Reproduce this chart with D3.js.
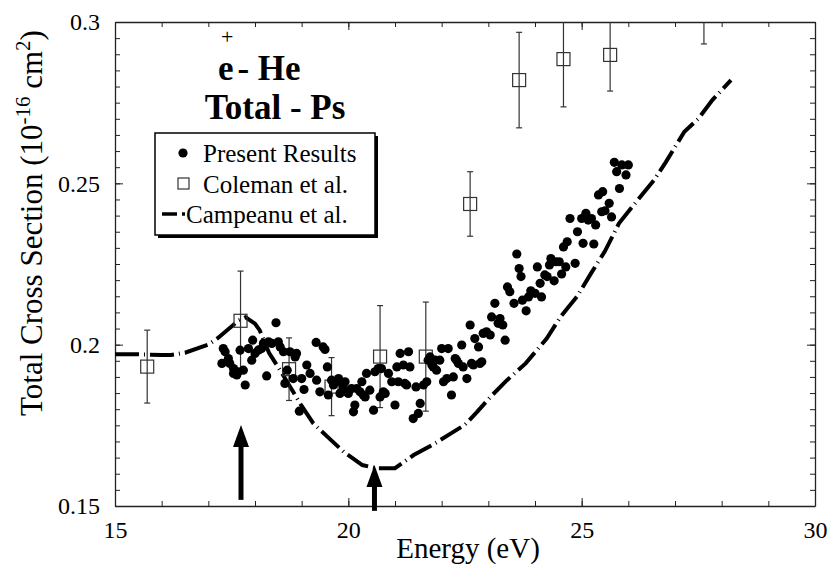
<!DOCTYPE html>
<html lang="en">
<head>
    <meta charset="UTF-8">
    <title>e+ - He Total - Ps</title>
    <script src="https://d3js.org/d3.v7.min.js"></script>
    <style>
        body { margin: 0; background: #fff; }
    </style>
</head>
<body>

<script>
    // Present Results (energy in eV, cross section in 1e-16 cm^2)
    const presentE = [
        17.32,17.36,17.29,17.43,17.46,17.54,17.54,17.61,17.64,17.68,
        17.75,17.79,17.86,17.93,17.95,18.00,18.07,18.14,18.18,18.25,
        18.29,18.36,18.45,18.50,18.54,18.61,18.64,18.69,18.75,18.82,
        18.86,18.89,18.95,19.00,19.05,19.11,19.18,19.31,19.32,19.39,
        19.46,19.50,19.55,19.57,19.64,19.68,19.75,19.79,19.82,19.89,
        19.93,19.96,20.00,20.07,20.11,20.14,20.18,20.25,20.29,20.32,
        20.36,20.39,20.46,20.54,20.57,20.64,20.68,20.71,20.75,20.79,
        20.86,20.93,21.00,21.04,21.07,21.11,21.18,21.21,21.25,21.29,
        21.32,21.39,21.45,21.50,21.54,21.61,21.68,21.71,21.75,21.79,
        21.82,21.86,21.89,21.96,22.00,22.04,22.11,22.14,22.21,22.25,
        22.29,22.32,22.36,22.43,22.46,22.54,22.61,22.64,22.68,22.71,
        22.79,22.82,22.86,22.89,22.96,23.04,23.07,23.14,23.21,
        23.25,23.31,23.36,23.41,23.46,23.55,23.61,23.66,23.70,23.73,
        23.81,23.86,23.91,24.00,24.05,24.11,24.14,24.21,24.26,24.31,
        24.34,24.41,24.45,24.52,24.57,24.61,24.66,24.69,24.75,24.86,
        24.91,25.00,25.03,25.09,25.14,25.21,25.26,25.30,25.36,25.45,
        25.43,25.50,25.59,25.64,25.70,25.75,25.81,25.86,25.95,26.00
    ];
    const presentSigma = [
        0.1988,0.1978,0.1942,0.1957,0.1942,0.1926,0.1911,0.1906,0.1916,0.1983,
        0.1921,0.1875,0.1988,0.1952,0.2014,0.1973,0.1983,0.1988,0.2004,0.1903,
        0.2009,0.2004,0.2068,0.2009,0.1993,0.1978,0.1880,0.1921,0.1978,0.1895,
        0.1962,0.1973,0.1794,0.1895,0.1861,0.1937,0.1911,0.2007,0.1890,0.1854,
        0.1993,0.1985,0.1931,0.1844,0.1890,0.1875,0.1885,0.1895,0.1849,0.1869,
        0.1885,0.1854,0.1849,0.1864,0.1792,0.1813,0.1864,0.1854,0.1885,0.1844,
        0.1838,0.1911,0.1859,0.1797,0.1916,0.1926,0.1838,0.1926,0.1854,0.1849,
        0.1911,0.1885,0.1813,0.1931,0.1885,0.1973,0.1937,0.1880,0.1875,0.1978,
        0.1931,0.1771,0.1869,0.1787,0.1818,0.1875,0.1885,0.1952,0.1962,0.1937,
        0.1931,0.1952,0.1921,0.1952,0.1988,0.1885,0.1895,0.1988,0.1844,0.1900,
        0.1957,0.1952,0.1942,0.1999,0.1931,0.1895,0.2061,0.1942,0.1937,0.2019,
        0.1993,0.1942,0.1947,0.2035,0.2040,0.2030,0.2086,0.2128,0.2066,
        0.2081,0.2061,0.2014,0.2179,0.2164,0.2128,0.2281,0.2236,0.2211,0.2138,
        0.2105,0.2148,0.2167,0.2159,0.2241,0.2190,0.2148,0.2216,0.2211,0.2247,
        0.2267,0.2198,0.2257,0.2257,0.2219,0.2303,0.2241,0.2319,0.2391,0.2252,
        0.2350,0.2391,0.2314,0.2407,0.2386,0.2391,0.2312,0.2371,0.2464,0.2474,
        0.2412,0.2415,0.2438,0.2396,0.2565,0.2536,0.2484,0.2557,0.2526,0.2557
    ];

    // Coleman et al.
    const colemanE     = [15.69, 17.69, 18.73, 19.64, 20.68, 21.66, 22.61, 23.66, 24.61, 25.61, 27.62];
    const colemanSigma = [0.1932, 0.2074, 0.1924, 0.1870, 0.1963, 0.1963, 0.2436, 0.2820, 0.2885, 0.2898, 0.3080];
    const colemanErr   = [0.0113, 0.0154, 0.0097, 0.0090, 0.0158, 0.0169, 0.0100, 0.0148, 0.0148, 0.0112, 0.0148];

    // Campeanu et al.
    const campE = [15.0,15.5,16.0,16.2,16.5,17.0,17.2,17.65,17.8,18.0,18.1,18.3,18.6,19.0,19.25,
        19.55,19.9,20.3,20.6,21.0,21.4,21.8,22.2,22.5,22.75,23.05,23.4,23.8,24.25,24.55,
        24.9,25.2,25.5,25.8,26.2,26.55,26.8,27.2,27.5,27.8,28.2];
    const campSigma = [0.1970,0.1970,0.1968,0.1968,0.1975,0.2000,0.2020,0.2075,0.2085,0.2065,0.2045,0.1975,0.1906,0.1810,0.1756,
        0.1715,0.1668,0.1627,0.1617,0.1617,0.1658,0.1689,0.1725,0.1752,0.1790,0.1839,0.1890,0.1942,0.2019,0.2087,
        0.2149,0.2221,0.2290,0.2376,0.2448,0.2510,0.2565,0.2660,0.2700,0.2758,0.2820];

    // threshold arrows
    const arrowE      = [17.7, 20.56];
    const arrowTip    = [0.1751, 0.1627];
    const arrowBottom = [0.1519, 0.1485];

    // ticks
    const xTickLabels = [15, 20, 25, 30];
    const yTickLabels = [0.15, 0.2, 0.25, 0.3];

    const FONT = "'Liberation Serif', 'Times New Roman', serif";
    const width = 831, height = 572;
    const margin = { top: 22, right: 16, bottom: 66, left: 115 };
    const iw = width - margin.left - margin.right;
    const ih = height - margin.top - margin.bottom;

    const svg = d3.select("body").append("svg")
        .attr("width", width)
        .attr("height", height);

    const g = svg.append("g")
        .attr("transform", "translate(" + margin.left + "," + margin.top + ")");

    const x = d3.scaleLinear().domain([15, 30]).range([0, iw]);
    const y = d3.scaleLinear().domain([0.15, 0.3]).range([ih, 0]);

    svg.append("defs").append("clipPath").attr("id", "clip")
        .append("rect").attr("width", iw).attr("height", ih);

    // axes: ticks pointing inwards on all four sides
    const xMinor = d3.range(15, 31, 1);
    const yMinor = d3.range(0, 31).map(i => 0.15 + i * 0.005);

    function drawAxis(axisFn, scale, tr, minor, major, labels) {
        const gm = g.append("g").attr("transform", tr)
            .call(axisFn(scale).tickValues(minor).tickSizeInner(-5).tickSizeOuter(0).tickFormat(""));
        gm.select(".domain").attr("stroke", "#222").attr("stroke-width", 1.3);
        gm.selectAll(".tick line").attr("stroke", "#222");
        const ga = g.append("g").attr("transform", tr)
            .call(axisFn(scale).tickValues(major).tickSizeInner(-8).tickSizeOuter(0).tickPadding(15)
                .tickFormat(labels ? (d => String(d)) : ""));
        ga.attr("font-family", FONT).attr("font-size", 24);
        ga.select(".domain").remove();
        ga.selectAll(".tick line").attr("stroke", "#222");
        ga.selectAll("text").attr("fill", "#000");
    }
    drawAxis(d3.axisBottom, x, "translate(0," + ih + ")", xMinor, xTickLabels, true);
    drawAxis(d3.axisTop, x, "translate(0,0)", xMinor, xTickLabels, false);
    drawAxis(d3.axisLeft, y, "translate(0,0)", yMinor, yTickLabels, true);
    drawAxis(d3.axisRight, y, "translate(" + iw + ",0)", yMinor, yTickLabels, false);

    const plot = g.append("g").attr("clip-path", "url(#clip)");

    // Campeanu curve
    const line = d3.line().x(d => x(d[0])).y(d => y(d[1]));
    plot.append("path")
        .datum(d3.zip(campE, campSigma))
        .attr("d", line)
        .attr("fill", "none")
        .attr("stroke", "#000")
        .attr("stroke-width", 4)
        .attr("stroke-dasharray", "24,5,1,5");

    // Coleman error bars and squares
    const coleman = d3.zip(colemanE, colemanSigma, colemanErr);
    const eb = plot.selectAll(".eb").data(coleman).enter().append("g")
        .attr("stroke", "#333").attr("stroke-width", 1.2);
    eb.append("line")
        .attr("x1", d => x(d[0])).attr("x2", d => x(d[0]))
        .attr("y1", d => y(d[1] - d[2])).attr("y2", d => y(d[1] + d[2]));
    eb.append("line")
        .attr("x1", d => x(d[0]) - 3).attr("x2", d => x(d[0]) + 3)
        .attr("y1", d => y(d[1] - d[2])).attr("y2", d => y(d[1] - d[2]));
    eb.append("line")
        .attr("x1", d => x(d[0]) - 3).attr("x2", d => x(d[0]) + 3)
        .attr("y1", d => y(d[1] + d[2])).attr("y2", d => y(d[1] + d[2]));
    eb.append("rect")
        .attr("x", d => x(d[0]) - 6.5).attr("y", d => y(d[1]) - 6.5)
        .attr("width", 13).attr("height", 13)
        .attr("fill", "none");

    // Present results
    plot.selectAll(".dot").data(d3.zip(presentE, presentSigma)).enter().append("circle")
        .attr("cx", d => x(d[0])).attr("cy", d => y(d[1]))
        .attr("r", 4.6).attr("fill", "#000");

    // arrows
    arrowE.forEach((e, i) => {
        const ax = x(e), tip = y(arrowTip[i]);
        g.append("line")
            .attr("x1", ax).attr("x2", ax)
            .attr("y1", tip + 18).attr("y2", y(arrowBottom[i]))
            .attr("stroke", "#000").attr("stroke-width", 5);
        g.append("path")
            .attr("d", "M" + ax + "," + tip + "L" + (ax + 8) + "," + (tip + 22) + "L" + (ax - 8) + "," + (tip + 22) + "Z")
            .attr("fill", "#000");
    });

    // title: the "+" sits above the "e"
    const t1 = svg.append("text").attr("x", 218).attr("y", 80)
        .style("font-size", "35px").style("font-weight", "bold");
    t1.append("tspan").text("e");
    t1.append("tspan").attr("dx", -12.5).attr("dy", -36.5)
        .style("font-size", "22px").style("font-weight", "normal").text("+");
    t1.append("tspan").attr("dx", 4).attr("dy", 36.5).text("- He");
    svg.append("text")
        .attr("x", 275).attr("y", 119)
        .attr("text-anchor", "middle")
        .style("font-size", "35px").style("font-weight", "bold")
        .text("Total - Ps");

    // legend
    const lg = svg.append("g");
    lg.append("rect").attr("x", 158).attr("y", 136).attr("width", 220).attr("height", 102).attr("fill", "#000");
    lg.append("rect").attr("x", 155).attr("y", 133).attr("width", 220).attr("height", 102)
        .attr("fill", "#fff").attr("stroke", "#000").attr("stroke-width", 1.5);
    lg.append("circle").attr("cx", 183).attr("cy", 153).attr("r", 4.6).attr("fill", "#000");
    lg.append("rect").attr("x", 178).attr("y", 178).attr("width", 11).attr("height", 11)
        .attr("fill", "none").attr("stroke", "#333").attr("stroke-width", 1.2);
    lg.append("line").attr("x1", 162).attr("x2", 177).attr("y1", 214).attr("y2", 214)
        .attr("stroke", "#000").attr("stroke-width", 3.5);
    lg.append("line").attr("x1", 182).attr("x2", 185).attr("y1", 214).attr("y2", 214)
        .attr("stroke", "#000").attr("stroke-width", 3.5);
    const legendText = [["Present Results", 203, 162], ["Coleman et al.", 203, 193], ["Campeanu et al.", 186, 223]];
    legendText.forEach(t => {
        lg.append("text").attr("x", t[1]).attr("y", t[2]).style("font-size", "25px").text(t[0]);
    });

    // axis titles
    svg.append("text")
        .attr("x", 468).attr("y", 558)
        .attr("text-anchor", "middle")
        .style("font-size", "29px")
        .text("Energy (eV)");

    const yl = svg.append("text")
        .attr("transform", "translate(42,223) rotate(-90)")
        .attr("text-anchor", "middle")
        .style("font-size", "31px");
    yl.append("tspan").text("Total Cross Section (10");
    yl.append("tspan").attr("dy", -12).style("font-size", "21px").text("-16");
    yl.append("tspan").attr("dy", 12).text(" cm");
    yl.append("tspan").attr("dy", -12).style("font-size", "21px").text("2");
    yl.append("tspan").attr("dy", 12).text(")");

    svg.selectAll("text").style("font-family", FONT).attr("fill", "#000");
</script>
</body>
</html>
